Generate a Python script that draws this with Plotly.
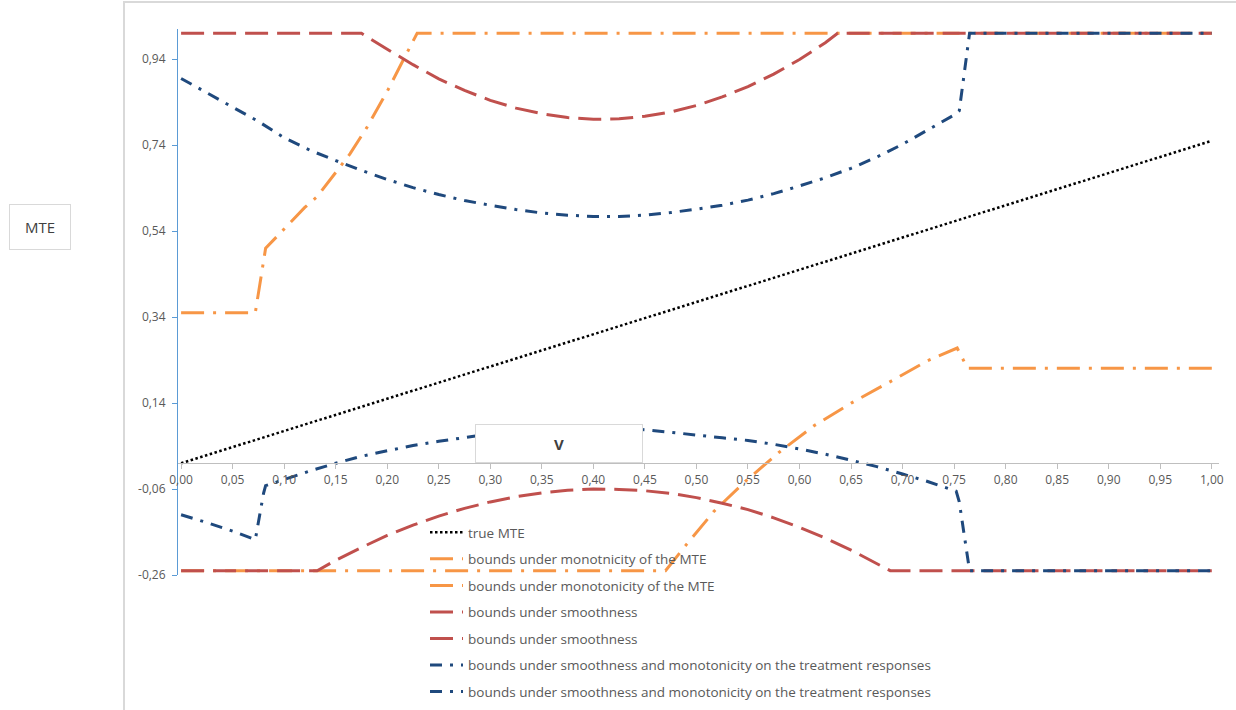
import plotly.graph_objects as go

# ---------------- data ----------------
v_true = [0.0, 0.5, 1.0]
mte_true = [0.0, 0.375, 0.75]

v_mono_lo = [0.0, 0.47, 0.49, 0.517, 0.548, 0.58, 0.614, 0.651, 0.689, 0.724, 0.753, 0.763, 1.0]
mono_lo = [-0.25, -0.25, -0.19, -0.112, -0.041, 0.025, 0.087, 0.141, 0.191, 0.238, 0.268, 0.221, 0.221]

v_mono_hi = [0.0, 0.072, 0.082, 0.1, 0.12, 0.132, 0.148, 0.164, 0.18, 0.2, 0.216, 0.229, 1.0]
mono_hi = [0.35, 0.35, 0.50, 0.545, 0.595, 0.62, 0.67, 0.72, 0.78, 0.865, 0.94, 1.0, 1.0]

v_smooth_lo = [0.0, 0.132, 0.15, 0.175, 0.2, 0.225, 0.25, 0.275, 0.3, 0.325, 0.35, 0.375, 0.4,
               0.425, 0.45, 0.475, 0.5, 0.525, 0.55, 0.575, 0.6, 0.625, 0.65, 0.675, 0.688, 1.0]
smooth_lo = [-0.25, -0.25, -0.226, -0.196, -0.168, -0.144, -0.123, -0.105, -0.090, -0.078, -0.069,
             -0.063, -0.060, -0.061, -0.064, -0.070, -0.080, -0.093, -0.108, -0.127, -0.149,
             -0.174, -0.202, -0.233, -0.25, -0.25]

v_smooth_hi = [0.0, 0.175, 0.2, 0.225, 0.25, 0.275, 0.3, 0.325, 0.35, 0.375, 0.4, 0.425, 0.45,
               0.475, 0.5, 0.525, 0.55, 0.575, 0.6, 0.625, 0.637, 1.0]
smooth_hi = [1.0, 1.0, 0.963, 0.927, 0.894, 0.867, 0.844, 0.826, 0.813, 0.804, 0.800, 0.801, 0.807,
             0.817, 0.832, 0.852, 0.876, 0.905, 0.939, 0.978, 1.0, 1.0]

v_smono_lo = [0.0, 0.025, 0.05, 0.072, 0.08, 0.082, 0.1, 0.125, 0.15, 0.175, 0.2, 0.225, 0.25,
              0.275, 0.3, 0.325, 0.35, 0.375, 0.4, 0.425, 0.45, 0.475, 0.5, 0.525, 0.55, 0.575,
              0.6, 0.625, 0.65, 0.675, 0.7, 0.725, 0.752, 0.755, 0.765, 1.0]
smono_lo = [-0.12, -0.138, -0.158, -0.178, -0.07, -0.052, -0.038, -0.018, 0.0, 0.016, 0.029, 0.041,
            0.051, 0.060, 0.068, 0.074, 0.079, 0.082, 0.083, 0.082, 0.078, 0.072, 0.065, 0.059,
            0.053, 0.044, 0.033, 0.021, 0.007, -0.008, -0.025, -0.043, -0.065, -0.09, -0.25, -0.25]

v_smono_hi = [0.0, 0.025, 0.05, 0.075, 0.1, 0.125, 0.15, 0.175, 0.2, 0.225, 0.25, 0.275, 0.3,
              0.325, 0.35, 0.375, 0.4, 0.425, 0.45, 0.475, 0.5, 0.525, 0.55, 0.575, 0.6, 0.625,
              0.65, 0.675, 0.7, 0.725, 0.75, 0.755, 0.765, 1.0]
smono_hi = [0.895, 0.862, 0.829, 0.795, 0.757, 0.728, 0.704, 0.681, 0.660, 0.641, 0.625, 0.611,
            0.600, 0.590, 0.582, 0.577, 0.574, 0.574, 0.577, 0.583, 0.591, 0.600, 0.612, 0.627,
            0.645, 0.664, 0.686, 0.712, 0.742, 0.775, 0.810, 0.820, 1.0, 1.0]

x_tick_vals = [0.0, 0.05, 0.1, 0.15, 0.2, 0.25, 0.3, 0.35, 0.4, 0.45, 0.5,
               0.55, 0.6, 0.65, 0.7, 0.75, 0.8, 0.85, 0.9, 0.95, 1.0]
x_tick_text = ["0,00", "0,05", "0,10", "0,15", "0,20", "0,25", "0,30", "0,35", "0,40", "0,45", "0,50",
               "0,55", "0,60", "0,65", "0,70", "0,75", "0,80", "0,85", "0,90", "0,95", "1,00"]
y_tick_vals = [-0.26, -0.06, 0.14, 0.34, 0.54, 0.74, 0.94]
y_tick_text = ["-0,26", "-0,06", "0,14", "0,34", "0,54", "0,74", "0,94"]

names = ["true MTE",
         "bounds under monotnicity of the MTE",
         "bounds under monotonicity of the MTE",
         "bounds under smoothness",
         "bounds under smoothness",
         "bounds under smoothness and monotonicity on the treatment responses",
         "bounds under smoothness and monotonicity on the treatment responses"]

# ---------------- styling ----------------
W, H = 1236, 710
ML, MR, MT, MB = 178, 17, 29, 135
PW, PH = W - ML - MR, H - MT - MB
X_RANGE = [-0.003, 1.007]
Y_RANGE = [-0.26, 1.01]

ORANGE = "#F79646"
RED = "#C0504D"
BLUE = "#1F497D"
FONT = "Open Sans"


def px_x(px):
    return (px - ML) / PW


def px_y(py):
    return 1 - (py - MT) / PH


series = [
    (v_true, mte_true, "black", "2.5px,2.5px", 2.5),
    (v_mono_lo, mono_lo, ORANGE, "23px,9px,3px,9px", 3),
    (v_mono_hi, mono_hi, ORANGE, "23px,9px,3px,9px", 3),
    (v_smooth_lo, smooth_lo, RED, "23px,9px", 3),
    (v_smooth_hi, smooth_hi, RED, "23px,9px", 3),
    (v_smono_lo, smono_lo, BLUE, "12px,8px,3px,8px", 3),
    (v_smono_hi, smono_hi, BLUE, "12px,8px,3px,8px", 3),
]

fig = go.Figure()
for i, (xs, ys, col, dash, w) in enumerate(series):
    fig.add_trace(go.Scatter(
        x=xs, y=ys, mode="lines", name=names[i], legendgroup=f"g{i}",
        line=dict(color=col, dash=dash, width=w),
        hoverinfo="skip",
    ))

y0_paper = (0 - Y_RANGE[0]) / (Y_RANGE[1] - Y_RANGE[0])

fig.update_layout(
    width=W, height=H,
    margin=dict(l=ML, r=MR, t=MT, b=MB, pad=0, autoexpand=False),
    paper_bgcolor="white", plot_bgcolor="white",
    font=dict(family=FONT, color="#595959"),
    showlegend=True,
    legend=dict(
        x=px_x(425), y=px_y(517), xanchor="left", yanchor="top",
        bgcolor="rgba(0,0,0,0)", borderwidth=0,
        font=dict(family=FONT, size=13.5, color="#595959"),
        traceorder="grouped", tracegroupgap=6, itemwidth=33,
    ),
    xaxis=dict(
        range=X_RANGE, anchor="free", position=y0_paper,
        tickvals=x_tick_vals, ticktext=x_tick_text,
        showline=True, linecolor="#BFBFBF", linewidth=1,
        ticks="outside", ticklen=5, tickcolor="#BFBFBF", tickwidth=1,
        tickfont=dict(family=FONT, size=12, color="#595959"),
        showgrid=False, zeroline=False, automargin=False,
    ),
    yaxis=dict(
        range=Y_RANGE,
        tickvals=y_tick_vals, ticktext=y_tick_text,
        showline=True, linecolor="#5B9BD5", linewidth=1,
        ticks="outside", ticklen=5, tickcolor="#5B9BD5", tickwidth=1,
        tickfont=dict(family=FONT, size=12, color="#595959"),
        ticklabelstandoff=4,
        showgrid=False, zeroline=False, automargin=False,
    ),
    shapes=[dict(
        type="rect", xref="paper", yref="paper",
        x0=px_x(124), x1=px_x(1245), y0=px_y(2), y1=px_y(720),
        line=dict(color="#D9D9D9", width=2), fillcolor="rgba(0,0,0,0)", layer="below",
    )],
    annotations=[
        dict(text="MTE", xref="paper", yref="paper", x=px_x(39.5), y=px_y(227),
             xanchor="center", yanchor="middle", showarrow=False,
             width=58, height=42, borderpad=1, bordercolor="#D9D9D9", borderwidth=1,
             bgcolor="white", font=dict(family=FONT, size=15, color="#404040")),
        dict(text="<b>V</b>", xref="paper", yref="paper", x=px_x(558.5), y=px_y(443),
             xanchor="center", yanchor="middle", showarrow=False,
             width=164, height=35, borderpad=1, bordercolor="#D9D9D9", borderwidth=1,
             bgcolor="white", font=dict(family=FONT, size=15, color="#404040")),
    ],
)

fig.write_html("out.html", config={"displayModeBar": False},
               post_script="document.body.style.margin='0';document.body.style.overflow='hidden';")
